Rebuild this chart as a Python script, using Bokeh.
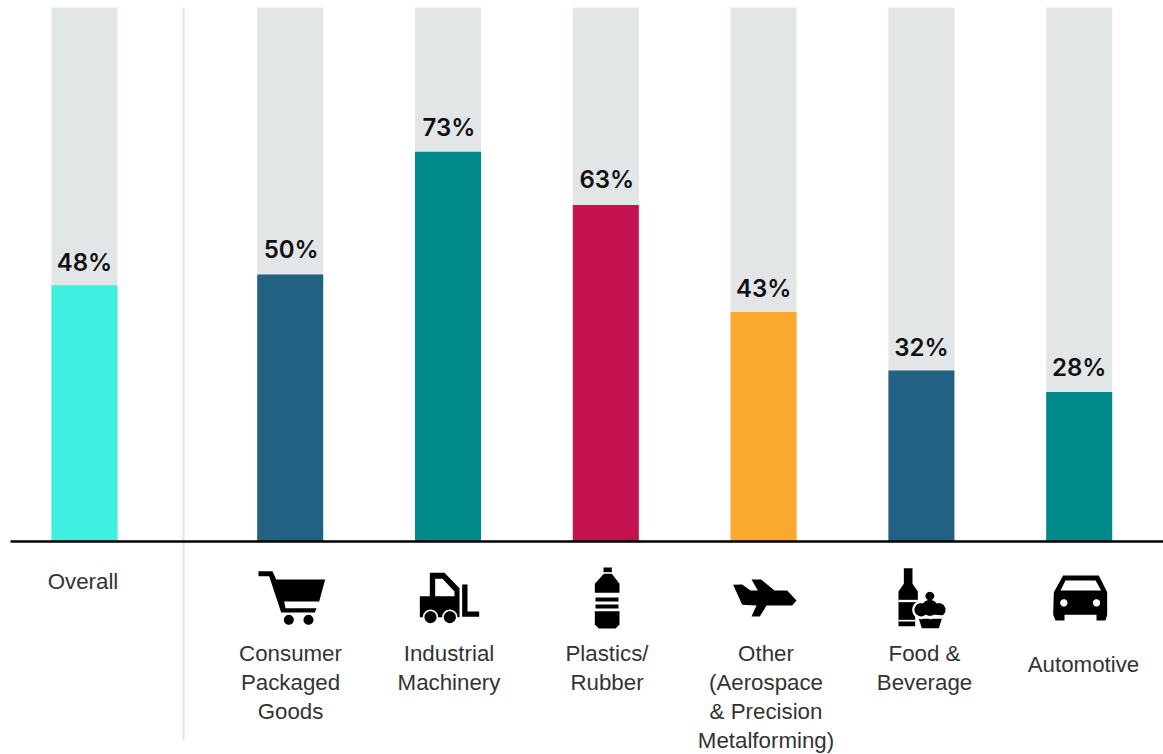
import math
from bokeh.plotting import figure
from bokeh.models import Range1d, ColumnDataSource
from bokeh.embed import file_html
from bokeh.resources import INLINE
from bokeh.core.properties import value

categories = ["Overall", "Consumer Packaged Goods", "Industrial Machinery", "Plastics/Rubber",
              "Other (Aerospace & Precision Metalforming)", "Food & Beverage", "Automotive"]
values = [48, 50, 73, 63, 43, 32, 28]
track_values = [100, 100, 100, 100, 100, 100, 100]
bar_colors = ["#3DF0E0", "#236183", "#008A8A", "#C41150", "#FAA92E", "#236183", "#008A8A"]
label_lines = [["Overall"], ["Consumer", "Packaged", "Goods"], ["Industrial", "Machinery"],
               ["Plastics/", "Rubber"], ["Other", "(Aerospace", "& Precision", "Metalforming)"],
               ["Food &", "Beverage"], ["Automotive"]]

W, H = 1163, 754
UX, UY = 157.8, 5.34
X0, Y0 = 289.7, 541


def dx(px):
    return (px - X0) / UX


def dy(py):
    return (Y0 - py) / UY


positions = [dx(84)] + list(range(6))
BAR_W = 66 / UX

p = figure(width=W, height=H, output_backend="svg", toolbar_location=None,
           x_range=Range1d(dx(0), dx(W)), y_range=Range1d(dy(H), dy(0)),
           min_border=0, outline_line_color=None, tools="")
p.axis.visible = False
p.grid.visible = False

# separator
p.segment(x0=[dx(183)], x1=[dx(183)], y0=[dy(7)], y1=[dy(740)], line_color="#E3E6E7", line_width=2)

value_gaps = [-23, -25, -24, -26, -23, -23, -24]
value_shift = [0, 1, 1, 1, 0, 0, 0]
src = ColumnDataSource(dict(x=positions, v=values, t=track_values, c=bar_colors,
                            lab=[f"{v}%" for v in values], g=value_gaps, s=value_shift))
p.vbar(x="x", top="t", bottom=0, width=BAR_W, fill_color="#E3E6E7", line_color=None, source=src)
p.vbar(x="x", top="v", bottom=0, width=BAR_W, fill_color="c", line_color=None, source=src)
p.text(x="x", y="v", text="lab", source=src, text_align="center", text_baseline="middle",
       x_offset="s", y_offset="g", text_font=value("Inter SemiBold"), text_font_size="24px",
       text_color="#111111")

# baseline
p.segment(x0=[dx(10)], x1=[dx(W)], y0=[0], y1=[0], line_color="#000000", line_width=2.4)

# category labels
PITCH = 29
starts = [581, 653, 653, 653, 653, 653, 664]
label_centers = [83, 290.5, 449, 607, 766, 924.5, 1083.5]
tx, ty, tt = [], [], []
for c, lines, s in zip(label_centers, label_lines, starts):
    for i, line in enumerate(lines):
        tx.append(dx(c - 0.5))
        ty.append(dy(s + i * PITCH))
        tt.append(line)
p.text(x=tx, y=ty, text=tt, text_align="center", text_baseline="middle",
       text_font=value("Liberation Sans"), text_font_size="22.3px", text_color="#333333")


# icons: (origin x, origin y, shapes) in 3x crop coordinates
def circ(cx, cy, r, n=28):
    return [(cx + r * math.cos(2 * math.pi * i / n), cy + r * math.sin(2 * math.pi * i / n)) for i in range(n)]


K, Wt = "#000000", "#FFFFFF"
icons = [
    (240, 555, [
        (K, [(54, 47), (96, 47), (107, 72), (254, 72), (236, 138), (131, 138), (135, 158), (228, 158),
             (223, 171), (122, 171), (86, 62), (54, 62)]),
        (K, circ(145, 193, 15)), (K, circ(204, 193, 15)),
    ]),
    (240, 555, [
        (K, [(538, 122), (568, 122), (568, 52), (612, 52), (657, 98), (657, 185), (538, 185)]),
        (Wt, [(584, 70), (606, 70), (642, 108), (642, 122), (584, 122)]),
        (K, [(665, 87), (681, 87), (681, 168), (716, 168), (716, 184), (665, 184)]),
        (Wt, circ(570, 185, 23)), (Wt, circ(628, 185, 23)),
        (K, circ(570, 185, 18)), (K, circ(628, 185, 18)),
    ]),
    (570, 555, [
        (K, [(99, 36), (124, 36), (124, 50), (99, 50)]),
        (K, [(100, 55), (124, 55), (147, 85), (147, 112), (73, 112), (73, 85)]),
        (K, [(75, 126), (144, 126), (144, 138), (75, 138)]),
        (K, [(75, 147), (144, 147), (144, 159), (75, 159)]),
        (K, [(73, 167), (147, 167), (147, 207), (135, 219), (85, 219), (73, 207)]),
    ]),
    (570, 555, [
        (K, [(488, 88), (515, 87), (540, 105), (562, 105), (543, 72), (572, 72), (612, 105), (650, 105),
             (678, 135), (665, 150), (588, 150), (568, 183), (543, 183), (558, 150), (515, 148)]),
    ]),
    (880, 555, [
        (K, [(70, 38), (96, 38), (96, 85), (112, 108), (112, 212), (54, 212), (54, 108), (70, 85)]),
        (Wt, [(54, 133), (112, 133), (112, 140), (54, 140)]),
        (Wt, [(54, 193), (112, 193), (112, 198), (54, 198)]),
        (Wt, circ(122, 163, 27)), (Wt, circ(148, 155, 31)), (Wt, circ(175, 163, 27)),
        (Wt, [(104, 178), (192, 178), (192, 218), (104, 218)]),
        (K, circ(148, 122, 13)),
        (K, circ(122, 163, 20)), (K, circ(148, 157, 24)), (K, circ(175, 163, 20)),
        (K, [(115, 190), (184, 190), (175, 218), (124, 218)]),
        (Wt, [(108, 178), (122, 186), (136, 178), (150, 186), (164, 178), (192, 180),
              (192, 186), (164, 184), (150, 192), (136, 184), (122, 192), (108, 184)]),
    ]),
    (880, 555, [
        (K, [(520, 110), (548, 60), (655, 60), (680, 110), (680, 178), (675, 195), (648, 195), (648, 178),
             (552, 178), (552, 195), (525, 195), (518, 178)]),
        (Wt, [(540, 105), (555, 75), (645, 75), (662, 105)]),
        (Wt, circ(550, 142, 11)), (Wt, circ(648, 142, 11)),
    ]),
]

for ox, oy, shapes in icons:
    for color, poly in shapes:
        xs = [dx(ox + a / 3) for a, _ in poly]
        ys = [dy(oy + b / 3) for _, b in poly]
        p.patch(xs, ys, fill_color=color, line_color=None)

open("out.html", "w").write(file_html(p, INLINE))
